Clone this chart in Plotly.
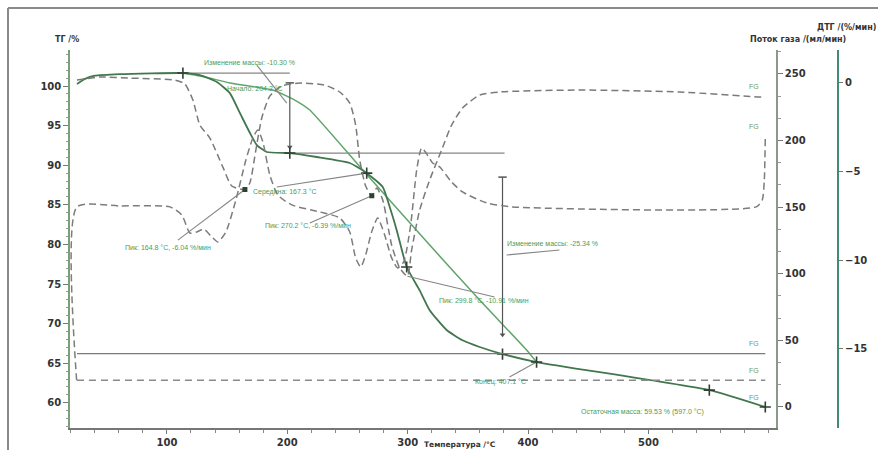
import plotly.graph_objects as go

# ---------------- data ----------------
# TG curve (main, dark)
tg_T = [25.3, 32.0, 40.2, 61.0, 113.3, 127.4, 141.5, 152.3, 160.6, 168.9, 174.7, 183.0,
        202.1, 224.5, 251.9, 266.0, 279.3, 285.1, 290.9, 299.2, 310.0, 318.3, 332.4,
        345.6, 359.8, 378.8, 407.1, 550.6, 597.1]
tg_v = [100.25, 100.9, 101.3, 101.5, 101.64, 101.39, 100.5, 99.1, 96.6, 94.1, 92.55, 91.67,
        91.54, 91.04, 90.28, 89.0, 87.25, 84.72, 81.8, 77.15, 74.2, 71.7, 69.2,
        67.9, 67.05, 66.16, 65.15, 61.6, 59.47]

# second TG trace (lighter)
tg2_T = [113.3, 131.5, 152.3, 188.0, 206.2, 218.7, 262.7, 318.3, 359.8, 398.8, 407.1]
tg2_v = [101.64, 101.14, 100.38, 99.49, 98.23, 96.97, 89.39, 79.92, 72.98, 66.67, 65.15]

# DTG curve (%/min)
dtg_T = [25.3, 44.4, 69.3, 106.6, 114.9, 121.6, 127.4, 135.7, 146.5, 153.9, 164.8, 168.9,
         173.9, 178.8, 185.5, 195.4, 210.4, 231.1, 243.6, 251.9, 256.8, 260.2, 265.1,
         270.2, 274.3, 279.3, 286.7, 293.4, 299.8, 303.3, 310.0, 318.3, 328.2, 336.5,
         345.6, 359.8, 376.3, 442.7, 525.7, 592.1, 597.1]
dtg_v = [0.11, 0.28, 0.22, 0.11, -0.11, -1.01, -2.42, -3.15, -4.78, -5.84, -6.04, -5.67,
         -3.82, -2.02, -0.79, -0.22, -0.06, -0.17, -0.56, -1.18, -2.42, -4.38, -5.84,
         -6.39, -5.96, -6.63, -9.16, -10.45, -10.91, -9.44, -7.19, -5.5, -3.82, -2.42,
         -1.46, -0.73, -0.56, -0.45, -0.56, -0.84, -0.84]

# gas-flow-axis dashed curve (ml/min)
fb_T = [25.0, 25.3, 61.0, 102.5, 112.4, 119.1, 124.9, 130.7, 136.5, 142.3, 149.0, 157.3,
        165.6, 171.4, 175.5, 179.7, 185.5, 192.1, 203.7, 227.0, 243.6, 251.9, 256.8,
        261.0, 265.1, 270.1, 275.1, 280.9, 286.7, 291.7, 296.7, 302.5, 307.5, 311.6,
        315.8, 320.7, 326.6, 336.5, 345.6, 365.6, 387.1, 589.6, 594.6, 596.3, 597.1]
fb_v = [20.0, 150.2, 150.9, 150.2, 144.1, 130.6, 131.4, 133.6, 128.4, 123.9, 131.4, 155.4,
        185.4, 201.9, 208.0, 199.0, 174.2, 159.2, 151.7, 146.4, 141.9, 131.4, 111.9,
        105.1, 114.1, 131.4, 141.9, 129.1, 111.9, 104.4, 108.9, 136.6, 177.9, 194.4,
        190.0, 183.2, 180.2, 168.9, 161.4, 153.2, 150.2, 150.2, 155.4, 170.4, 202.7]

# gas flows (ml/min)
flow_T = [25.3, 597.1]
flow1_v = [40.0, 40.0]
flow2_v = [20.0, 20.0]

# evaluation points
step1_T, step1_top, step1_bot = 202.1, 100.4, 92.3
step2_T, step2_top, step2_bot = 378.8, 88.5, 68.6
tg_marks_T = [113.3, 202.1, 266.0, 299.2, 378.8, 407.1, 550.6, 597.1]
tg_marks_v = [101.64, 91.54, 89.0, 77.15, 66.16, 65.15, 61.6, 59.47]
peak_T = [164.8, 270.2, 299.8]
peak_v = [-6.04, -6.39, -10.91]
lvl1_T, lvl1_v = [113.3, 202.1], [101.64, 101.64]
lvl2_T, lvl2_v = [202.1, 380.5], [91.54, 91.54]

x_ticks = [100, 200, 300, 400, 500]

# ---------------- figure ----------------
W, H = 881, 450
L, R, T, B = 70, 11, 50, 22
PW, PH = W - L - R, H - T - B


def px(xp):
    return (xp - L) / PW


def py(yp):
    return (H - B - yp) / PH


DARK = "#42774d"
LIGHT = "#5fa468"
GREY = "#858585"
TXT = "#4b9c57"

fig = go.Figure()

# reference levels
fig.add_trace(go.Scatter(x=lvl1_T, y=lvl1_v, mode="lines", line=dict(color=GREY, width=1.2), yaxis="y"))
fig.add_trace(go.Scatter(x=lvl2_T, y=lvl2_v, mode="lines", line=dict(color=GREY, width=1.2), yaxis="y"))

# gas flows
fig.add_trace(go.Scatter(x=flow_T, y=flow1_v, mode="lines", line=dict(color="#7a7a7a", width=1.3), yaxis="y2"))
fig.add_trace(go.Scatter(x=flow_T, y=flow2_v, mode="lines",
                         line=dict(color="#8a8a8a", width=1.5, dash="7px,5px"), yaxis="y2"))
fig.add_trace(go.Scatter(x=fb_T, y=fb_v, mode="lines",
                         line=dict(color="#7d7d7d", width=1.5, dash="7px,4px", shape="spline", smoothing=0.6),
                         yaxis="y2"))

# DTG
fig.add_trace(go.Scatter(x=dtg_T, y=dtg_v, mode="lines",
                         line=dict(color="#7a7a7a", width=1.5, dash="7px,4px", shape="spline", smoothing=0.6),
                         yaxis="y3"))

# TG curves
fig.add_trace(go.Scatter(x=tg2_T, y=tg2_v, mode="lines",
                         line=dict(color=LIGHT, width=1.5, shape="spline", smoothing=0.4), yaxis="y"))
fig.add_trace(go.Scatter(x=tg_T, y=tg_v, mode="lines",
                         line=dict(color=DARK, width=1.8, shape="spline", smoothing=0.5), yaxis="y"))

# step vertical lines
fig.add_trace(go.Scatter(x=[step1_T, step1_T], y=[step1_top, step1_bot], mode="lines",
                         line=dict(color="#555", width=1.2), yaxis="y"))
fig.add_trace(go.Scatter(x=[step2_T, step2_T], y=[step2_top, step2_bot], mode="lines",
                         line=dict(color="#555", width=1.2), yaxis="y"))
fig.add_trace(go.Scatter(x=[step1_T, step2_T], y=[step1_bot, step2_bot], mode="markers",
                         marker=dict(symbol="triangle-down", size=5, color="#555"), yaxis="y"))
fig.add_trace(go.Scatter(x=[step1_T, step2_T], y=[step1_top, step2_top], mode="markers",
                         marker=dict(symbol="line-ew", size=6, line=dict(color="#555", width=1.5)), yaxis="y"))

# pointer lines (label -> point)
ptr = dict(mode="lines", line=dict(color=GREY, width=1.1))
fig.add_trace(go.Scatter(x=[174.7, 199.6], y=[102.65, 97.85], yaxis="y", **ptr))
fig.add_trace(go.Scatter(x=[191.3, tg_marks_T[2]], y=[87.25, tg_marks_v[2]], yaxis="y", **ptr))
fig.add_trace(go.Scatter(x=[109.1, peak_T[0]], y=[-8.88, peak_v[0]], yaxis="y3", **ptr))
fig.add_trace(go.Scatter(x=[218.7, peak_T[1]], y=[-7.92, peak_v[1]], yaxis="y3", **ptr))
fig.add_trace(go.Scatter(x=[372.2, peak_T[2]], y=[-12.08, peak_v[2]], yaxis="y3", **ptr))
fig.add_trace(go.Scatter(x=[382.2, 426.1], y=[78.66, 79.3], yaxis="y", **ptr))
fig.add_trace(go.Scatter(x=[384.6, tg_marks_T[5]], y=[63.26, tg_marks_v[5]], yaxis="y", **ptr))

# markers
fig.add_trace(go.Scatter(x=tg_marks_T, y=tg_marks_v, mode="markers", yaxis="y",
                         marker=dict(symbol="cross-thin", size=8, line=dict(color="#2f3f33", width=1.6))))
fig.add_trace(go.Scatter(x=peak_T[:2], y=peak_v[:2], mode="markers", yaxis="y3",
                         marker=dict(symbol="square", size=5, color="#2f3f33")))

fig.update_layout(
    width=W, height=H, margin=dict(l=L, r=R, t=T, b=B, autoexpand=False),
    paper_bgcolor="white", plot_bgcolor="white", showlegend=False,
    font=dict(family="DejaVu Sans", color="#333"),
    xaxis=dict(domain=[0, (776 - L) / PW], range=[19.5, 606], tickvals=x_ticks, automargin=False,
               showgrid=False, zeroline=False, showline=True, linecolor="#777", linewidth=1.5,
               ticks="outside", ticklen=4, tickcolor="#777", ticklabelstandoff=0,
               minor=dict(dtick=20, ticks="outside", ticklen=3, tickcolor="#888"),
               tickfont=dict(size=10, weight="bold", color="#333")),
    yaxis=dict(range=[56.82, 104.55], dtick=5, tick0=0, showgrid=False, zeroline=False, automargin=False,
               showline=True, linecolor="#7aa07a", linewidth=1.5,
               ticks="outside", ticklen=5, tickcolor="#777",
               minor=dict(dtick=1, ticks="outside", ticklen=2, tickcolor="#999"),
               tickfont=dict(size=10, weight="bold", color="#333")),
    yaxis2=dict(overlaying="y", side="right", anchor="x", range=[-15.8, 268], dtick=50, tick0=0,
                showgrid=False, zeroline=False, showline=True, linecolor="#8a9a8a", linewidth=1.5,
                ticks="outside", ticklen=5, tickcolor="#777", automargin=False,
                minor=dict(dtick=50 / 3, ticks="outside", ticklen=3, tickcolor="#999"),
                tickfont=dict(size=10, weight="bold", color="#333")),
    yaxis3=dict(overlaying="y", side="right", anchor="free", position=(838 - L) / PW,
                range=[-19.44, 1.80], dtick=5, tick0=0, showgrid=False, zeroline=False,
                showline=True, linecolor="#3f8c72", linewidth=2, automargin=False,
                ticks="outside", ticklen=4, tickcolor="#777",
                tickfont=dict(size=10, weight="bold", color="#333")),
)

ann = []
lab = dict(font=dict(family="Liberation Sans", size=7, color=TXT), showarrow=False, xref="x", yref="y")
ann.append(dict(x=168.9, y=103.03, text="Изменение массы: -10.30 %", xanchor="center", **lab))
ann.append(dict(x=148.1, y=99.75, text="Начало: 204.2 °C", xanchor="left", **lab))
ann.append(dict(x=170.0, y=86.6, text="Середина: 167.3 °C", xanchor="left", **lab))
ann.append(dict(x=63.5, y=79.55, text="Пик: 164.8 °C, -6.04 %/мин", xanchor="left", **lab))
ann.append(dict(x=179.7, y=82.45, text="Пик: 270.2 °C, -6.39 %/мин", xanchor="left", **lab))
ann.append(dict(x=324.1, y=72.98, text="Пик: 299.8 °C, -10.91 %/мин", xanchor="left", **lab))
ann.append(dict(x=380.5, y=80.18, text="Изменение массы: -25.34 %", xanchor="left", **lab))
ann.append(dict(x=353.9, y=62.63, text="Конец: 407.1 °C", xanchor="left", **lab))
ann.append(dict(x=442.7, y=58.84, text="Остаточная масса: 59.53 % (597.0 °C)", xanchor="left", **lab))

# curve end tags
tag = dict(text="FG", showarrow=False, xshift=-11, yshift=10,
           font=dict(family="Liberation Sans", size=7, color="#6a9a6a"))
ann.append(dict(x=dtg_T[-1], y=dtg_v[-1], xref="x", yref="y3", **tag))
ann.append(dict(x=fb_T[-1], y=fb_v[-1], xref="x", yref="y2", **tag))
ann.append(dict(x=flow_T[-1], y=flow1_v[-1], xref="x", yref="y2", **tag))
ann.append(dict(x=flow_T[-1], y=flow2_v[-1], xref="x", yref="y2", **tag))
ann.append(dict(x=tg_T[-1], y=tg_v[-1], xref="x", yref="y", **tag))

# axis titles
ttl = dict(font=dict(family="DejaVu Sans", size=8, weight="bold", color="#333"), showarrow=False,
           xref="paper", yref="paper")
ann.append(dict(x=px(53), y=py(33), text="ТГ /%", xanchor="left", **ttl))
ann.append(dict(x=px(878), y=py(21), text="ДТГ /(%/мин)", xanchor="right", **ttl))
ann.append(dict(x=px(848), y=py(33), text="Поток газа /(мл/мин)", xanchor="right", **ttl))
ann.append(dict(x=px(460), y=py(450), text="Температура /°C", xanchor="center", yanchor="bottom",
                borderpad=0, font=dict(family="DejaVu Sans", size=7.5, weight="bold", color="#333"),
                showarrow=False, xref="paper", yref="paper"))
fig.update_layout(annotations=ann)

# outer frame
fig.add_shape(type="line", xref="paper", yref="paper", x0=px(8), x1=px(8), y0=py(8), y1=py(452),
              line=dict(color="#8a8a8a", width=2))
fig.add_shape(type="line", xref="paper", yref="paper", x0=px(8), x1=px(878), y0=py(8), y1=py(8),
              line=dict(color="#8a8a8a", width=2))

fig.write_html("out.html")
